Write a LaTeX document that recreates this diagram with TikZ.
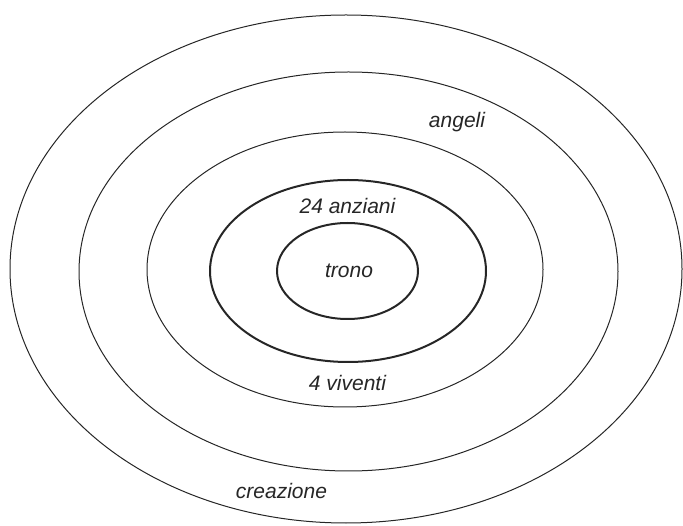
\documentclass[tikz,border=0pt]{standalone}
\usepackage{fontspec}
\setmainfont{Liberation Sans}

\begin{document}
\begin{tikzpicture}[
    x={(1pt,0pt)}, y={(0pt,-1pt)},
    every node/.style={font=\fontsize{21}{24}\selectfont\itshape, text=black!85, inner sep=0pt, anchor=base},
    ring/.style={draw=black!85, line width=1pt},
    corering/.style={ring, line width=2pt},
  ]
    \useasboundingbox (0,0) rectangle (683,526);

    % -------- rings, outside in --------
    \draw[ring] (346,269) ellipse [x radius=336, y radius=254];
    \draw[ring] (348.5,271.5) ellipse [x radius=269.5, y radius=199.5];
    \draw[ring] (345,269.5) ellipse [x radius=198, y radius=137.5];
    \draw[corering] (348,271) ellipse [x radius=138, y radius=91];
    \draw[corering] (347.5,271) ellipse [x radius=70.5, y radius=48];

    % -------- labels --------
    \node (angeli) at (457,128) {angeli};
    \node (anziani) at (347.5,214) {24 anziani};
    \node (trono) at (349,277.5) {trono};
    \node (viventi) at (347.5,391) {4 viventi};
    \node (creazione) at (281.5,498) {creazione};
  \end{tikzpicture}
\end{document}
